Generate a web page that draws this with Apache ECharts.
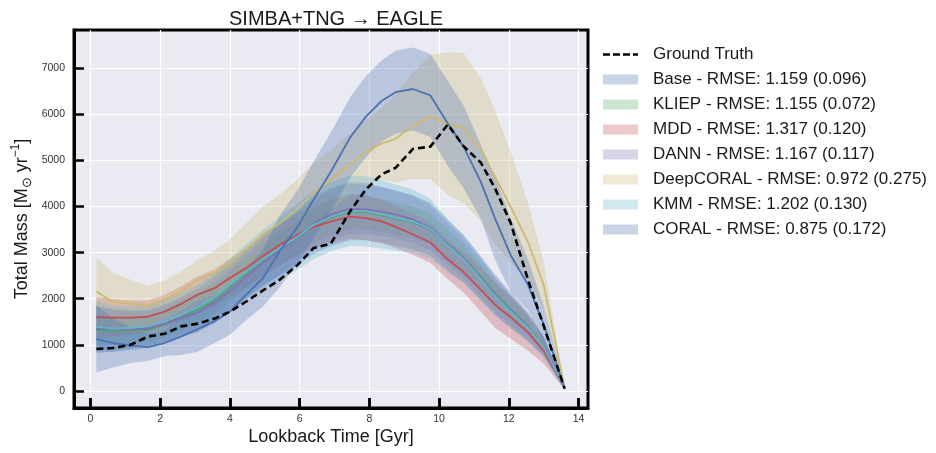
<!DOCTYPE html>
<html>
<head>
<meta charset="utf-8">
<script src="https://cdn.jsdelivr.net/npm/echarts@6/dist/echarts.min.js"></script>
<style>
html, body { margin: 0; padding: 0; background: #fff; }
#chart { width: 936px; height: 453px; }
</style>
</head>
<body>
<div id="chart"></div>
<script>
// lookback time of each snapshot [Gyr]
var times = [0.17, 0.65, 1.15, 1.65, 2.13, 2.6, 3.08, 3.56, 4.0, 4.47, 4.95, 5.43, 5.95, 6.4, 6.9, 7.45, 7.9, 8.35, 8.75, 9.25, 9.75, 10.25, 10.7, 11.2, 11.6, 12.05, 12.55, 13.0, 13.6];

var truth = [910, 930, 1000, 1180, 1240, 1400, 1460, 1570, 1720, 1940, 2180, 2410, 2740, 3100, 3200, 3900, 4370, 4700, 4840, 5250, 5300, 5780, 5310, 4950, 4400, 3650, 2410, 1410, 50];

var baseMean = [1330, 1310, 1320, 1340, 1450, 1600, 1770, 2000, 2270, 2570, 2850, 3090, 3340, 3590, 3770, 3900, 3890, 3820, 3750, 3660, 3510, 3160, 2870, 2450, 2090, 1760, 1390, 960, 60];
var baseStd = [500, 460, 430, 410, 420, 440, 460, 480, 500, 530, 560, 590, 610, 620, 630, 630, 620, 610, 600, 590, 570, 550, 520, 480, 440, 390, 320, 220, 30];

var kliepMean = [1310, 1300, 1310, 1320, 1440, 1590, 1760, 1990, 2260, 2560, 2840, 3080, 3330, 3580, 3760, 3890, 3880, 3810, 3740, 3660, 3520, 3180, 2900, 2480, 2120, 1780, 1410, 970, 60];
var kliepStd = [330, 300, 280, 270, 280, 290, 300, 310, 320, 330, 340, 350, 360, 370, 370, 370, 370, 360, 350, 340, 330, 310, 290, 270, 250, 220, 180, 130, 20];

var mddMean = [1600, 1590, 1590, 1610, 1720, 1890, 2090, 2230, 2450, 2670, 2930, 3170, 3390, 3560, 3680, 3780, 3750, 3680, 3560, 3400, 3220, 2850, 2580, 2190, 1870, 1600, 1270, 870, 60];
var mddStd = [440, 400, 370, 350, 360, 380, 400, 410, 420, 430, 440, 450, 460, 470, 480, 480, 480, 470, 460, 450, 440, 430, 440, 470, 500, 470, 400, 280, 30];

var dannMean = [1370, 1330, 1330, 1360, 1450, 1580, 1700, 1920, 2170, 2480, 2780, 3050, 3340, 3620, 3830, 3950, 3940, 3890, 3830, 3720, 3540, 3180, 2880, 2450, 2090, 1750, 1390, 960, 60];
var dannStd = [480, 430, 400, 380, 390, 410, 430, 450, 470, 490, 510, 530, 540, 550, 550, 550, 540, 530, 520, 510, 490, 460, 430, 400, 370, 330, 270, 190, 30];

var deepMean = [2160, 1930, 1890, 1850, 1980, 2160, 2410, 2560, 2760, 3070, 3400, 3640, 3950, 4300, 4580, 4920, 5180, 5370, 5470, 5750, 5940, 5800, 5700, 5230, 4650, 4000, 3230, 2300, 60];
var deepStd = [740, 640, 520, 430, 420, 430, 440, 480, 530, 570, 600, 620, 650, 650, 650, 660, 700, 780, 950, 1150, 1350, 1550, 1630, 1550, 1450, 1200, 850, 500, 40];

var kmmMean = [1390, 1350, 1370, 1410, 1510, 1650, 1810, 2030, 2300, 2590, 2860, 3100, 3350, 3600, 3780, 3910, 3900, 3830, 3760, 3680, 3520, 3150, 2860, 2420, 2060, 1720, 1370, 950, 60];
var kmmStd = [560, 500, 460, 440, 450, 470, 500, 530, 560, 600, 640, 680, 720, 740, 750, 760, 760, 740, 720, 690, 650, 580, 520, 470, 420, 370, 300, 210, 30];

var coralMean = [1130, 1040, 985, 950, 1040, 1180, 1340, 1510, 1720, 2090, 2450, 3030, 3570, 4150, 4760, 5500, 5950, 6290, 6480, 6550, 6410, 5800, 5300, 4530, 3750, 2950, 2300, 1440, 50];
var coralStd = [730, 530, 380, 300, 280, 400, 490, 470, 500, 550, 620, 780, 800, 820, 850, 870, 880, 880, 900, 900, 900, 920, 900, 800, 900, 800, 550, 400, 40];

var xTicks = [0, 2, 4, 6, 8, 10, 12, 14];
var yTicks = [0, 1000, 2000, 3000, 4000, 5000, 6000, 7000];

var methods = [
  { label: 'Base - RMSE: 1.159 (0.096)', color: '#4C72B0', mean: baseMean, std: baseStd },
  { label: 'KLIEP - RMSE: 1.155 (0.072)', color: '#55A868', mean: kliepMean, std: kliepStd },
  { label: 'MDD - RMSE: 1.317 (0.120)', color: '#C44E52', mean: mddMean, std: mddStd },
  { label: 'DANN - RMSE: 1.167 (0.117)', color: '#8172B2', mean: dannMean, std: dannStd },
  { label: 'DeepCORAL - RMSE: 0.972 (0.275)', color: '#CCB974', mean: deepMean, std: deepStd },
  { label: 'KMM - RMSE: 1.202 (0.130)', color: '#64B5CD', mean: kmmMean, std: kmmStd },
  { label: 'CORAL - RMSE: 0.875 (0.172)', color: '#4C72B0', mean: coralMean, std: coralStd }
];

function fade(hex, a) {
  var r = parseInt(hex.slice(1, 3), 16), g = parseInt(hex.slice(3, 5), 16), b = parseInt(hex.slice(5, 7), 16);
  return 'rgba(' + r + ',' + g + ',' + b + ',' + a + ')';
}

function pairs(ys) {
  return times.map(function (t, i) { return [t, ys[i]]; });
}

var series = [];
methods.forEach(function (m) {
  // mean +/- std band
  series.push({
    type: 'custom',
    name: m.label,
    coordinateSystem: 'cartesian2d',
    silent: true,
    itemStyle: { color: fade(m.color, 0.3) },
    data: [[0, 0]],
    renderItem: function (params, api) {
      var pts = [];
      for (var i = 0; i < times.length; i++) pts.push(api.coord([times[i], m.mean[i] + m.std[i]]));
      for (var j = times.length - 1; j >= 0; j--) pts.push(api.coord([times[j], m.mean[j] - m.std[j]]));
      return { type: 'polygon', shape: { points: pts }, style: { fill: fade(m.color, 0.3) } };
    }
  });
  series.push({
    type: 'line',
    name: m.label + ' mean',
    data: pairs(m.mean),
    showSymbol: false,
    symbol: 'none',
    silent: true,
    lineStyle: { color: m.color, width: 1.8 },
    itemStyle: { color: m.color }
  });
});
series.push({
  type: 'line',
  name: 'Ground Truth',
  data: pairs(truth),
  symbol: 'none',
  silent: true,
  z: 5,
  lineStyle: { color: '#000', width: 2.6, type: [7, 4] },
  itemStyle: { color: '#000' }
});

// dashed icon for the ground truth entry
var dashIcon = 'path://M0,0h7v2.4h-7z M10,0h7v2.4h-7z M20,0h7v2.4h-7z M30,0h5v2.4h-5z';
var legendData = [{ name: 'Ground Truth', icon: dashIcon, itemStyle: { color: '#000' } }].concat(methods.map(function (m) {
  return { name: m.label, icon: 'rect' };
}));

var chart = echarts.init(document.getElementById('chart'));
var option = {
  animation: false,
  backgroundColor: '#fff',
  textStyle: { fontFamily: 'Liberation Sans, Arial, sans-serif' },
  title: {
    text: 'SIMBA+TNG \u2192 EAGLE',
    left: 331,
    textAlign: 'center',
    top: 4,
    textStyle: { fontSize: 20, fontWeight: 'normal', color: '#1a1a1a', fontFamily: 'Liberation Sans, Arial, sans-serif' }
  },
  legend: {
    orient: 'vertical',
    left: 603,
    top: 46,
    padding: 0,
    itemWidth: 35,
    itemHeight: 10,
    itemGap: 8,
    data: legendData,
    textStyle: { fontSize: 17, lineHeight: 17, color: '#1a1a1a', padding: [0, 0, 0, 10] }
  },
  grid: {
    left: 74,
    right: 348,
    top: 30,
    bottom: 45,
    show: true,
    backgroundColor: '#EAEAF2',
    borderColor: '#000',
    borderWidth: 3
  },
  xAxis: [{
    type: 'value',
    position: 'bottom',
    min: -0.47,
    max: 14.27,
    name: 'Lookback Time [Gyr]',
    nameLocation: 'middle',
    nameGap: 20,
    nameMoveOverlap: false,
    nameTextStyle: { fontSize: 18, color: '#1a1a1a' },
    axisLine: { show: true, onZero: false, lineStyle: { color: '#000', width: 3 } },
    axisTick: { show: true, inside: true, length: 10, customValues: xTicks, lineStyle: { color: '#000', width: 2.5 } },
    axisLabel: { customValues: xTicks, margin: 6, fontSize: 10.5, color: '#333' },
    splitLine: { show: true, lineStyle: { color: '#fff', width: 1.2 } }
  }, {
    // tick marks only, kept above the plot contents
    type: 'value',
    position: 'bottom',
    min: -0.47,
    max: 14.27,
    z: 10,
    axisLine: { show: false, onZero: false },
    axisTick: { show: true, inside: true, length: 10, customValues: xTicks, lineStyle: { color: '#000', width: 2.5 } },
    axisLabel: { show: false },
    splitLine: { show: false }
  }],
  yAxis: {
    type: 'value',
    min: -370,
    max: 7830,
    name: 'Total Mass [M{s|\u2299} yr{p|\u22121}]',
    nameLocation: 'middle',
    nameRotate: 90,
    nameGap: 40,
    nameMoveOverlap: false,
    nameTextStyle: {
      fontSize: 18, color: '#1a1a1a', lineHeight: 24,
      rich: {
        s: { fontSize: 13, lineHeight: 24, verticalAlign: 'bottom', color: '#1a1a1a' },
        p: { fontSize: 12, lineHeight: 24, verticalAlign: 'top', color: '#1a1a1a' }
      }
    },
    axisLine: { show: true, onZero: false, lineStyle: { color: '#000', width: 3 } },
    axisTick: { show: true, inside: true, length: 10, customValues: yTicks, lineStyle: { color: '#000', width: 2.5 } },
    axisLabel: { customValues: yTicks, margin: 9, fontSize: 10.5, color: '#333', formatter: function (v) { return String(v); } },
    splitLine: { show: true, lineStyle: { color: '#fff', width: 1.2 } }
  },
  series: series
};
chart.setOption(option);
</script>
</body>
</html>
